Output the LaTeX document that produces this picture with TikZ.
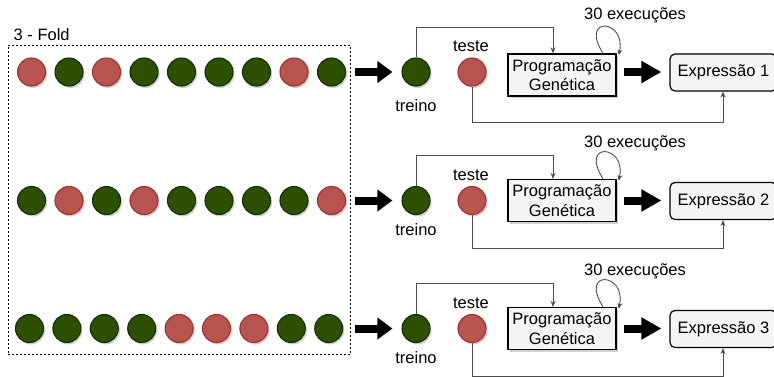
\documentclass[tikz,border=0pt]{standalone}
\usepackage{fontspec}
\setmainfont{Liberation Sans}
\usetikzlibrary{arrows.meta,shadows}

\definecolor{redfill}{HTML}{B85450}
\definecolor{redline}{HTML}{A3302C}
\definecolor{greenfill}{HTML}{2D5000}
\definecolor{greenline}{HTML}{142E05}
\definecolor{boxfill}{HTML}{F5F5F5}
\definecolor{wirecol}{HTML}{4D4D4D}

\tikzset{
  txt/.style={font=\fontsize{16.5}{18.5}\selectfont},
  ball/.style={circle, minimum size=28pt, inner sep=0pt, line width=1.1pt,
    drop shadow={shadow xshift=1.6pt, shadow yshift=-2pt, fill=black!45, opacity=0.4}},
  k1/.style={ball, fill=redfill, draw=redline},
  k0/.style={ball, fill=greenfill, draw=greenline},
  lbl/.style={txt, inner sep=0pt},
  pgbox/.style={txt, draw=black, line width=1.4pt, fill=boxfill,
    minimum width=108pt, minimum height=42pt, inner sep=0pt, align=center,
    drop shadow={shadow xshift=1.6pt, shadow yshift=-2pt, fill=black!45, opacity=0.4}},
  exbox/.style={txt, draw=black, line width=1.2pt, fill=boxfill, rounded corners=5pt,
    minimum width=107pt, minimum height=37pt, inner sep=0pt},
  wire/.style={draw=wirecol, line width=0.9pt, -{Stealth[length=6pt,width=5pt]}},
  bigarrow/.style={line width=8pt, -{Triangle[length=#1,width=21pt]}},
  foldbox/.style={draw=black, dashed, dash pattern=on 2pt off 2pt, line width=0.8pt,
    minimum width=342.5pt, minimum height=309pt, inner sep=0pt}
}

\begin{document}
\begin{tikzpicture}[x=1pt, y=-1pt]
\useasboundingbox (0,0) rectangle (774,376);

% folds container and its title
\node[foldbox] (fold) at (179.25,199.5) {};
\node[lbl, anchor=west] (foldtitle) at (13.5,35) {3 - Fold};

% sample rows: 1 = test sample (red), 0 = training sample (green)
\foreach \r/\cy/\xa/\dx/\pat in {
    1/72/31.5/37.5/{1,0,1,0,0,0,0,1,0},
    2/200.5/31.5/37.5/{0,1,0,1,0,0,0,0,1},
    3/328.5/29.5/37.4/{0,0,0,0,1,1,1,0,0}} {
  \foreach \k [count=\i from 0] in \pat {
    \node[k\k] (c\r-\i) at ({\xa+\dx*\i},\cy) {};
  }
}

% one pipeline per fold
\foreach \r/\cy/\pgdy/\trdy/\bot in {1/72/3/34/50, 2/200.5/0/29/48, 3/328.5/0/29/48} {
  \node[k0] (tr\r) at (416,\cy) {};
  \node[k1] (te\r) at (472,\cy) {};
  \node[lbl] (trl\r) at (416,{\cy+\trdy}) {treino};
  \node[lbl] (tel\r) at (471,{\cy-25.5}) {teste};
  \node[pgbox] (pg\r) at (562,{\cy+\pgdy}) {Programação\\[1pt]Genética};
  \node[exbox] (ex\r) at (723.5,{\cy+0.5}) {Expressão \r};
  \node[lbl] (runs\r) at (635,{\cy-57}) {30 execuções};
  \coordinate (up\r) at (0,{\cy-45});
  \coordinate (dn\r) at (0,{\cy+\bot});

  % split of the fold into training and test sets
  \draw[bigarrow=15pt, shorten <=4pt, shorten >=9pt] (fold.east |- tr\r.center) -- (tr\r.west);
  % training set feeds the GP run
  \draw[wire] (tr\r.north) |- ([xshift=-9pt]pg\r.north |- up\r) -- ([xshift=-9pt]pg\r.north);
  % repeated runs
  \draw[wire] ([xshift=41pt]pg\r.north) .. controls +(-24,-38) and +(8,-36) .. ([xshift=2pt,yshift=-2pt]pg\r.north east);
  % GP produces the expression
  \draw[bigarrow=20pt, shorten <=7pt, shorten >=8pt] (pg\r.east |- tr\r.center) -- (ex\r.west |- tr\r.center);
  % test set evaluates the expression
  \draw[wire] (te\r.south) |- ([xshift=-0.5pt]ex\r.south |- dn\r) -- ([xshift=-0.5pt]ex\r.south);
}
\end{tikzpicture}
\end{document}
